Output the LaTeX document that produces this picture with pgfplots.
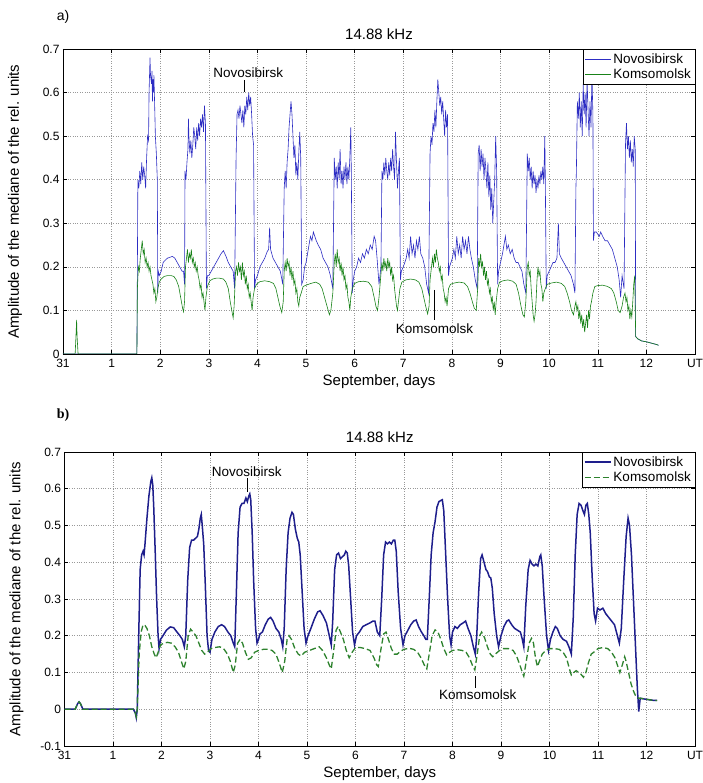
\documentclass[border=0pt]{standalone}
\usepackage{fontspec}
\setmainfont{Liberation Sans}
\newfontfamily\serifbold{Liberation Serif}
\usepackage{pgfplots}
\pgfplotsset{compat=1.18}
\definecolor{novA}{RGB}{45,45,195}
\definecolor{komA}{RGB}{25,130,25}
\definecolor{novB}{RGB}{30,30,140}
\definecolor{komB}{RGB}{45,130,45}
\pgfplotsset{
  matlab/.style={
    scale only axis, xmin=0, xmax=13,
    xtick={0,1,2,3,4,5,6,7,8,9,10,11,12,13},
    xticklabels={31,1,2,3,4,5,6,7,8,9,10,11,12,UT},
    grid=major, grid style={dotted, gray!80, line width=0.5pt},
    axis line style={black, line width=0.6pt},
    major tick length=4pt, tick style={black, line width=0.5pt},
    tick label style={font=\fontsize{12}{14}\selectfont},
    xticklabel style={yshift=-2pt},
    /pgf/number format/assume math mode=true,
    title style={font=\fontsize{15}{17}\selectfont},
    label style={font=\fontsize{15}{17}\selectfont},
    xlabel={September, days},
    ylabel={Amplitude of the mediane of the rel. units},
    ylabel style={at={(axis description cs:-0.076,0.5)}, anchor=center},
    legend cell align=left,
    legend style={at={(1,1)}, anchor=north east, draw=black, line width=0.5pt,
      font=\fontsize{13.5}{15}\selectfont, inner sep=2pt, row sep=0pt},
    legend image code/.code={\draw[#1] (0pt,0pt) -- (26pt,0pt);},
    title={14.88 kHz},
  },
}
\begin{document}
\begin{tikzpicture}
\path[use as bounding box] (0,0) rectangle (702pt,783pt);
\node[font=\fontsize{14}{16}\selectfont] at (63pt,766pt) {a)};
\node[font=\fontsize{14}{16}\selectfont\serifbold\bfseries] at (63pt,368pt) {b)};
% ---------------- panel a ----------------
\begin{axis}[matlab, at={(63pt,429pt)}, anchor=south west, width=632pt, height=305pt,
  ymin=0, ymax=0.7, ytick={0,0.1,0.2,0.3,0.4,0.5,0.6,0.7}]
\addplot[novA, line width=0.6pt] coordinates {
(0,0) (1.52,0) (1.54,0.40) (1.56,0.38) (1.58,0.42) (1.60,0.39) (1.62,0.44) (1.64,0.40) (1.66,0.43) (1.68,0.41) (1.70,0.38) (1.72,0.45) (1.74,0.50) (1.76,0.49) (1.77,0.60) (1.79,0.68) (1.80,0.64) (1.82,0.62) (1.83,0.65) (1.84,0.58) (1.85,0.63) (1.86,0.60) (1.87,0.64) (1.89,0.55) (1.90,0.50) (1.92,0.46) (1.94,0.40)
(1.95,0.14) (1.96,0.19) (1.98,0.18) (2.02,0.19) (2.06,0.21) (2.10,0.215) (2.15,0.22) (2.20,0.222) (2.25,0.224) (2.30,0.22) (2.35,0.21) (2.40,0.20) (2.45,0.19) (2.48,0.19) (2.50,0.16)
(2.51,0.42) (2.53,0.40) (2.55,0.44) (2.57,0.47) (2.58,0.54) (2.59,0.50) (2.61,0.46) (2.63,0.49) (2.65,0.45) (2.67,0.48) (2.69,0.52) (2.71,0.50) (2.73,0.47) (2.75,0.52) (2.77,0.49) (2.79,0.53) (2.81,0.50) (2.83,0.54) (2.85,0.52) (2.87,0.55) (2.89,0.51) (2.91,0.57) (2.93,0.53)
(2.95,0.15) (2.97,0.18) (3.00,0.18) (3.05,0.19) (3.10,0.20) (3.15,0.21) (3.20,0.22) (3.25,0.23) (3.30,0.237) (3.35,0.225) (3.40,0.21) (3.45,0.20) (3.50,0.19) (3.53,0.15)
(3.56,0.45) (3.58,0.55) (3.60,0.56) (3.62,0.54) (3.64,0.57) (3.66,0.55) (3.68,0.53) (3.70,0.56) (3.72,0.52) (3.74,0.57) (3.76,0.55) (3.78,0.59) (3.80,0.56) (3.82,0.60) (3.84,0.57) (3.86,0.59) (3.88,0.55) (3.90,0.50) (3.92,0.48)
(3.94,0.15) (3.96,0.17) (4.00,0.18) (4.05,0.20) (4.10,0.21) (4.15,0.22) (4.20,0.235) (4.23,0.24) (4.25,0.29) (4.27,0.24) (4.32,0.22) (4.37,0.21) (4.42,0.20) (4.47,0.19) (4.52,0.16)
(4.55,0.38) (4.57,0.42) (4.59,0.38) (4.61,0.44) (4.63,0.47) (4.65,0.52) (4.67,0.55) (4.69,0.58) (4.71,0.55) (4.73,0.50) (4.75,0.45) (4.77,0.48) (4.79,0.41) (4.81,0.44) (4.83,0.40) (4.85,0.46) (4.87,0.51) (4.89,0.45)
(4.91,0.16) (4.94,0.17) (4.97,0.20) (5.00,0.21) (5.03,0.23) (5.06,0.25) (5.09,0.27) (5.12,0.26) (5.15,0.28) (5.18,0.27) (5.21,0.26) (5.25,0.25) (5.30,0.24) (5.35,0.22) (5.40,0.21) (5.45,0.20) (5.50,0.18) (5.55,0.15)
(5.58,0.45) (5.60,0.40) (5.62,0.43) (5.64,0.38) (5.66,0.44) (5.68,0.40) (5.70,0.47) (5.72,0.39) (5.74,0.42) (5.76,0.38) (5.78,0.43) (5.80,0.40) (5.82,0.44) (5.84,0.39) (5.86,0.43) (5.88,0.40) (5.90,0.45) (5.92,0.52) (5.93,0.42)
(5.95,0.14) (5.97,0.17) (6.00,0.19) (6.04,0.20) (6.08,0.22) (6.12,0.21) (6.16,0.23) (6.20,0.22) (6.24,0.24) (6.28,0.23) (6.32,0.25) (6.36,0.24) (6.40,0.27) (6.43,0.26) (6.46,0.22) (6.50,0.16) (6.54,0.20)
(6.56,0.42) (6.58,0.40) (6.60,0.44) (6.62,0.41) (6.64,0.45) (6.66,0.42) (6.68,0.40) (6.70,0.44) (6.72,0.41) (6.74,0.45) (6.76,0.42) (6.78,0.47) (6.80,0.43) (6.82,0.40) (6.84,0.51) (6.86,0.44) (6.88,0.38) (6.90,0.42) (6.92,0.45)
(6.94,0.17) (6.96,0.19) (7.00,0.20) (7.03,0.21) (7.06,0.22) (7.09,0.24) (7.12,0.22) (7.15,0.27) (7.18,0.23) (7.21,0.25) (7.24,0.22) (7.27,0.26) (7.30,0.24) (7.33,0.27) (7.36,0.23) (7.40,0.22) (7.44,0.20) (7.48,0.16) (7.52,0.14)
(7.55,0.46) (7.57,0.50) (7.59,0.48) (7.61,0.53) (7.63,0.51) (7.65,0.56) (7.67,0.52) (7.69,0.58) (7.71,0.63) (7.73,0.60) (7.75,0.57) (7.77,0.59) (7.79,0.55) (7.81,0.58) (7.83,0.54) (7.85,0.50) (7.87,0.56) (7.89,0.52) (7.91,0.55)
(7.93,0.18) (7.95,0.20) (7.98,0.21) (8.01,0.22) (8.04,0.24) (8.07,0.22) (8.10,0.27) (8.13,0.23) (8.16,0.25) (8.19,0.22) (8.22,0.27) (8.25,0.24) (8.28,0.26) (8.31,0.23) (8.34,0.27) (8.37,0.24) (8.40,0.22) (8.44,0.20) (8.48,0.17) (8.52,0.15)
(8.54,0.46) (8.56,0.48) (8.58,0.42) (8.60,0.47) (8.62,0.43) (8.64,0.46) (8.66,0.40) (8.68,0.45) (8.70,0.42) (8.72,0.38) (8.74,0.44) (8.76,0.36) (8.78,0.41) (8.80,0.33) (8.82,0.38) (8.84,0.30) (8.86,0.35) (8.88,0.40) (8.90,0.50) (8.92,0.42)
(8.94,0.16) (8.96,0.19) (9.00,0.21) (9.04,0.23) (9.07,0.25) (9.10,0.27) (9.13,0.24) (9.16,0.25) (9.20,0.23) (9.24,0.24) (9.28,0.22) (9.32,0.21) (9.36,0.21) (9.40,0.20) (9.44,0.19) (9.48,0.16) (9.52,0.14)
(9.55,0.46) (9.57,0.42) (9.59,0.45) (9.61,0.40) (9.63,0.43) (9.65,0.38) (9.67,0.42) (9.69,0.39) (9.71,0.41) (9.73,0.37) (9.75,0.40) (9.77,0.38) (9.79,0.41) (9.81,0.39) (9.83,0.42) (9.85,0.40) (9.87,0.43) (9.89,0.39) (9.91,0.50) (9.92,0.41)
(9.94,0.15) (9.96,0.18) (10.00,0.19) (10.04,0.20) (10.08,0.21) (10.12,0.21) (10.16,0.22) (10.19,0.30) (10.21,0.23) (10.25,0.22) (10.30,0.21) (10.35,0.20) (10.40,0.19) (10.45,0.18) (10.50,0.16) (10.53,0.14)
(10.55,0.38) (10.56,0.42) (10.58,0.58) (10.60,0.54) (10.62,0.60) (10.64,0.52) (10.66,0.58) (10.68,0.50) (10.70,0.62) (10.72,0.55) (10.74,0.60) (10.76,0.52) (10.78,0.63) (10.80,0.56) (10.82,0.50) (10.84,0.58) (10.86,0.52) (10.88,0.64) (10.90,0.55)
(10.91,0.26) (10.93,0.28) (10.97,0.28) (11.00,0.275) (11.03,0.27) (11.06,0.28) (11.10,0.27) (11.15,0.26) (11.20,0.26) (11.25,0.25) (11.30,0.24) (11.35,0.22) (11.40,0.20) (11.44,0.17) (11.47,0.13) (11.50,0.18) (11.54,0.15)
(11.57,0.48) (11.59,0.53) (11.61,0.47) (11.63,0.50) (11.65,0.45) (11.67,0.49) (11.69,0.44) (11.71,0.47) (11.73,0.43) (11.75,0.50) (11.77,0.47)
(11.78,0.04) (11.82,0.035) (11.90,0.03) (12.00,0.028) (12.10,0.025) (12.20,0.022) (12.25,0.02)
};
\addplot[komA, line width=0.6pt] coordinates {
(0,0) (0.25,0) (0.27,0.05) (0.28,0.078) (0.29,0.04) (0.31,0) (1.52,0)
(1.53,0.15) (1.55,0.20) (1.57,0.19) (1.59,0.22) (1.61,0.24) (1.63,0.26) (1.65,0.23) (1.67,0.24) (1.69,0.21) (1.71,0.22) (1.73,0.20) (1.75,0.21) (1.77,0.19) (1.79,0.20) (1.81,0.18) (1.83,0.17) (1.85,0.16) (1.87,0.14) (1.89,0.15) (1.91,0.12) (1.93,0.13)
(1.95,0.15) (1.98,0.165) (2.02,0.172) (2.08,0.178) (2.15,0.18) (2.22,0.18) (2.28,0.178) (2.33,0.17) (2.38,0.155) (2.42,0.13) (2.46,0.105) (2.48,0.097) (2.50,0.12)
(2.52,0.20) (2.54,0.22) (2.56,0.24) (2.58,0.21) (2.60,0.23) (2.62,0.22) (2.64,0.24) (2.66,0.21) (2.68,0.22) (2.70,0.20) (2.72,0.21) (2.74,0.19) (2.76,0.20) (2.78,0.18) (2.80,0.17) (2.82,0.15) (2.84,0.16) (2.86,0.13) (2.88,0.14) (2.90,0.12) (2.92,0.10) (2.94,0.13)
(2.97,0.155) (3.02,0.168) (3.08,0.172) (3.15,0.174) (3.22,0.174) (3.30,0.172) (3.35,0.165) (3.40,0.15) (3.44,0.12) (3.48,0.095) (3.50,0.083) (3.52,0.11)
(3.55,0.19) (3.57,0.20) (3.59,0.18) (3.61,0.21) (3.63,0.19) (3.65,0.20) (3.67,0.17) (3.69,0.21) (3.71,0.18) (3.73,0.19) (3.75,0.16) (3.77,0.18) (3.79,0.15) (3.81,0.16) (3.83,0.13) (3.85,0.14) (3.87,0.12) (3.89,0.10) (3.91,0.13)
(3.94,0.15) (3.98,0.16) (4.05,0.166) (4.15,0.168) (4.25,0.166) (4.33,0.162) (4.38,0.15) (4.42,0.13) (4.46,0.11) (4.50,0.095) (4.53,0.12)
(4.55,0.19) (4.57,0.21) (4.59,0.19) (4.61,0.22) (4.63,0.20) (4.65,0.21) (4.67,0.18) (4.69,0.20) (4.71,0.17) (4.73,0.19) (4.75,0.16) (4.77,0.17) (4.79,0.14) (4.81,0.15) (4.83,0.12) (4.85,0.11) (4.87,0.13)
(4.90,0.14) (4.94,0.155) (5.00,0.158) (5.10,0.162) (5.20,0.165) (5.28,0.16) (5.33,0.15) (5.38,0.13) (5.43,0.11) (5.48,0.09) (5.51,0.10) (5.55,0.14)
(5.58,0.21) (5.60,0.23) (5.62,0.20) (5.64,0.24) (5.66,0.21) (5.68,0.22) (5.70,0.19) (5.72,0.21) (5.74,0.18) (5.76,0.20) (5.78,0.17) (5.80,0.18) (5.82,0.15) (5.84,0.16) (5.86,0.13) (5.88,0.12) (5.90,0.10) (5.92,0.13)
(5.95,0.15) (6.00,0.162) (6.08,0.166) (6.18,0.167) (6.28,0.165) (6.35,0.155) (6.40,0.13) (6.44,0.108) (6.47,0.10) (6.50,0.13) (6.53,0.17)
(6.56,0.21) (6.58,0.19) (6.60,0.22) (6.62,0.20) (6.64,0.21) (6.66,0.19) (6.68,0.22) (6.70,0.20) (6.72,0.21) (6.74,0.18) (6.76,0.20) (6.78,0.17) (6.80,0.18) (6.82,0.15) (6.84,0.13) (6.86,0.11) (6.88,0.10) (6.90,0.12)
(6.93,0.15) (6.97,0.165) (7.05,0.17) (7.15,0.172) (7.25,0.17) (7.32,0.165) (7.38,0.15) (7.42,0.13) (7.46,0.11) (7.50,0.092) (7.53,0.11)
(7.55,0.17) (7.58,0.20) (7.60,0.22) (7.62,0.20) (7.64,0.23) (7.66,0.21) (7.68,0.24) (7.70,0.22) (7.72,0.21) (7.74,0.19) (7.76,0.20) (7.78,0.17) (7.80,0.18) (7.82,0.15) (7.84,0.14) (7.86,0.12) (7.88,0.13) (7.90,0.11)
(7.93,0.15) (7.97,0.16) (8.05,0.163) (8.15,0.165) (8.25,0.163) (8.32,0.155) (8.37,0.14) (8.42,0.12) (8.46,0.105) (8.50,0.10) (8.53,0.15)
(8.55,0.22) (8.57,0.20) (8.59,0.23) (8.61,0.20) (8.63,0.21) (8.65,0.18) (8.67,0.20) (8.69,0.17) (8.71,0.19) (8.73,0.16) (8.75,0.17) (8.77,0.14) (8.79,0.15) (8.81,0.12) (8.83,0.13) (8.85,0.10) (8.87,0.12) (8.89,0.09) (8.91,0.12)
(8.94,0.15) (8.98,0.165) (9.05,0.168) (9.15,0.17) (9.25,0.167) (9.32,0.16) (9.37,0.14) (9.42,0.11) (9.46,0.09) (9.49,0.085) (9.52,0.12)
(9.55,0.20) (9.57,0.21) (9.59,0.18) (9.61,0.19) (9.63,0.15) (9.65,0.12) (9.67,0.09) (9.69,0.075) (9.71,0.09) (9.73,0.12) (9.75,0.17) (9.77,0.20) (9.79,0.18) (9.81,0.19) (9.83,0.16) (9.85,0.15) (9.87,0.12) (9.89,0.14)
(9.92,0.15) (9.96,0.16) (10.05,0.163) (10.15,0.165) (10.25,0.162) (10.32,0.155) (10.37,0.14) (10.42,0.12) (10.46,0.10) (10.50,0.09) (10.53,0.11)
(10.55,0.12) (10.57,0.10) (10.59,0.11) (10.61,0.08) (10.63,0.10) (10.65,0.07) (10.67,0.09) (10.69,0.06) (10.71,0.08) (10.73,0.05) (10.75,0.07) (10.77,0.09) (10.79,0.06) (10.81,0.10) (10.83,0.08) (10.85,0.11) (10.87,0.12)
(10.90,0.14) (10.94,0.155) (11.00,0.157) (11.10,0.158) (11.20,0.155) (11.28,0.15) (11.33,0.14) (11.38,0.12) (11.42,0.10) (11.46,0.095) (11.50,0.11) (11.53,0.13)
(11.56,0.14) (11.58,0.12) (11.60,0.13) (11.62,0.10) (11.64,0.11) (11.66,0.08) (11.68,0.10) (11.70,0.085) (11.72,0.12) (11.74,0.16) (11.76,0.18)
(11.78,0.04) (11.82,0.035) (11.90,0.03) (12.00,0.028) (12.10,0.025) (12.20,0.022) (12.25,0.02)
};
\legend{Novosibirsk, Komsomolsk}
\node[font=\fontsize{13.5}{15}\selectfont] at (axis cs:3.81,0.646) {Novosibirsk};
\draw[black, line width=0.6pt] (axis cs:3.72,0.628) -- (axis cs:3.72,0.601);
\node[font=\fontsize{13.5}{15}\selectfont] at (axis cs:7.64,0.058) {Komsomolsk};
\draw[black, line width=0.6pt] (axis cs:7.63,0.147) -- (axis cs:7.63,0.078);
\end{axis}
% ---------------- panel b ----------------
\begin{axis}[matlab, at={(64.5pt,37pt)}, anchor=south west, width=630.5pt, height=294pt,
  ymin=-0.1, ymax=0.7, ytick={-0.1,0,0.1,0.2,0.3,0.4,0.5,0.6,0.7}]
\addplot[novB, line width=1.5pt] coordinates {
(0,0) (0.22,0) (0.27,0.015) (0.30,0.02) (0.33,0.015) (0.38,0) (1.42,0) (1.46,-0.01) (1.48,-0.023) (1.50,0.0)
(1.53,0.2) (1.56,0.38) (1.59,0.42) (1.62,0.43) (1.64,0.42) (1.66,0.45) (1.70,0.52) (1.74,0.58) (1.78,0.62) (1.80,0.63) (1.82,0.61) (1.84,0.55) (1.87,0.43) (1.90,0.3) (1.93,0.2) (1.95,0.165)
(1.98,0.19) (2.03,0.20) (2.10,0.215) (2.18,0.224) (2.25,0.222) (2.32,0.21) (2.38,0.20) (2.43,0.19) (2.47,0.17)
(2.50,0.2) (2.54,0.35) (2.58,0.44) (2.62,0.46) (2.66,0.46) (2.70,0.465) (2.74,0.47) (2.77,0.49) (2.80,0.52) (2.82,0.53) (2.84,0.50) (2.87,0.45) (2.90,0.35) (2.94,0.2) (2.97,0.16) (3.00,0.155)
(3.04,0.19) (3.10,0.21) (3.17,0.225) (3.24,0.23) (3.30,0.225) (3.37,0.21) (3.43,0.20) (3.48,0.18) (3.51,0.17)
(3.54,0.3) (3.58,0.48) (3.62,0.55) (3.66,0.56) (3.70,0.56) (3.74,0.575) (3.77,0.565) (3.80,0.58) (3.82,0.586) (3.84,0.57) (3.87,0.48) (3.90,0.35) (3.94,0.22) (3.97,0.18)
(4.00,0.19) (4.03,0.205) (4.08,0.21) (4.14,0.23) (4.20,0.245) (4.25,0.25) (4.30,0.24) (4.36,0.22) (4.42,0.21) (4.47,0.19) (4.50,0.17)
(4.53,0.22) (4.57,0.38) (4.61,0.48) (4.65,0.52) (4.69,0.536) (4.72,0.53) (4.76,0.49) (4.80,0.465) (4.83,0.455) (4.86,0.42) (4.90,0.32) (4.94,0.22) (4.98,0.18)
(5.02,0.2) (5.08,0.22) (5.15,0.245) (5.22,0.265) (5.27,0.268) (5.33,0.255) (5.40,0.235) (5.46,0.2) (5.50,0.175)
(5.53,0.24) (5.57,0.38) (5.61,0.42) (5.65,0.425) (5.69,0.41) (5.73,0.415) (5.77,0.42) (5.80,0.43) (5.83,0.425) (5.86,0.39) (5.90,0.3) (5.94,0.21) (5.98,0.175)
(6.02,0.2) (6.08,0.21) (6.15,0.225) (6.22,0.23) (6.30,0.235) (6.36,0.24) (6.40,0.24) (6.45,0.21) (6.50,0.2)
(6.54,0.3) (6.58,0.42) (6.62,0.455) (6.66,0.45) (6.70,0.455) (6.74,0.45) (6.78,0.46) (6.81,0.46) (6.84,0.43) (6.88,0.32) (6.93,0.22) (6.98,0.175)
(7.02,0.2) (7.08,0.215) (7.14,0.23) (7.20,0.24) (7.25,0.243) (7.30,0.225) (7.36,0.21) (7.41,0.20) (7.45,0.19) (7.48,0.19)
(7.52,0.3) (7.56,0.42) (7.60,0.48) (7.64,0.51) (7.68,0.55) (7.72,0.565) (7.76,0.568) (7.79,0.57) (7.82,0.54) (7.86,0.42) (7.90,0.3) (7.94,0.2) (7.97,0.175)
(8.00,0.21) (8.05,0.225) (8.10,0.22) (8.16,0.23) (8.22,0.235) (8.27,0.24) (8.32,0.22) (8.38,0.2) (8.43,0.17) (8.47,0.15)
(8.50,0.2) (8.54,0.32) (8.58,0.41) (8.61,0.42) (8.65,0.40) (8.69,0.38) (8.72,0.375) (8.76,0.36) (8.79,0.357) (8.82,0.33) (8.86,0.26) (8.91,0.2) (8.95,0.17)
(9.00,0.2) (9.06,0.225) (9.12,0.24) (9.16,0.243) (9.22,0.23) (9.28,0.22) (9.34,0.215) (9.40,0.21) (9.44,0.19) (9.47,0.17)
(9.51,0.28) (9.56,0.38) (9.60,0.405) (9.64,0.395) (9.68,0.39) (9.72,0.395) (9.76,0.39) (9.80,0.415) (9.82,0.42) (9.85,0.39) (9.89,0.3) (9.94,0.2) (9.98,0.16)
(10.02,0.19) (10.07,0.21) (10.12,0.225) (10.16,0.22) (10.22,0.2) (10.28,0.19) (10.35,0.185) (10.40,0.17) (10.45,0.15)
(10.49,0.25) (10.53,0.42) (10.57,0.53) (10.61,0.56) (10.65,0.555) (10.69,0.54) (10.72,0.53) (10.75,0.555) (10.78,0.56) (10.81,0.53) (10.84,0.48) (10.88,0.36) (10.92,0.26) (10.95,0.24)
(10.99,0.275) (11.04,0.27) (11.10,0.275) (11.16,0.26) (11.22,0.25) (11.28,0.24) (11.34,0.23) (11.40,0.2) (11.44,0.18)
(11.48,0.22) (11.53,0.35) (11.58,0.47) (11.62,0.52) (11.65,0.5) (11.69,0.42) (11.73,0.3) (11.77,0.18) (11.81,0.06) (11.84,-0.006)
(11.87,0.03) (11.95,0.028) (12.05,0.026) (12.15,0.024) (12.22,0.024)
};
\addplot[komB, line width=1.3pt, dash pattern=on 6pt off 3pt] coordinates {
(0,0) (0.22,0) (0.27,0.015) (0.30,0.02) (0.33,0.015) (0.38,0) (1.42,0) (1.46,-0.01) (1.48,-0.02) (1.50,0.0)
(1.54,0.15) (1.58,0.21) (1.62,0.23) (1.66,0.228) (1.70,0.22) (1.75,0.2) (1.80,0.17) (1.85,0.15) (1.89,0.14) (1.93,0.155) (1.98,0.175)
(2.05,0.18) (2.12,0.182) (2.20,0.18) (2.28,0.17) (2.35,0.155) (2.41,0.13) (2.46,0.11) (2.50,0.13) (2.55,0.2) (2.60,0.218) (2.65,0.21) (2.71,0.2) (2.77,0.18) (2.83,0.16) (2.89,0.15) (2.95,0.155)
(3.02,0.165) (3.10,0.168) (3.20,0.17) (3.28,0.165) (3.36,0.15) (3.42,0.13) (3.48,0.1) (3.52,0.12) (3.57,0.18) (3.62,0.19) (3.67,0.18) (3.73,0.155) (3.79,0.136) (3.85,0.14) (3.92,0.155)
(4.00,0.16) (4.10,0.163) (4.20,0.163) (4.28,0.16) (4.36,0.15) (4.43,0.125) (4.49,0.1) (4.54,0.13) (4.59,0.19) (4.63,0.2) (4.68,0.19) (4.75,0.165) (4.82,0.15) (4.88,0.145) (4.95,0.155)
(5.05,0.16) (5.15,0.165) (5.25,0.17) (5.32,0.16) (5.40,0.14) (5.46,0.12) (5.50,0.11) (5.55,0.16) (5.60,0.215) (5.64,0.225) (5.69,0.21) (5.75,0.19) (5.81,0.16) (5.87,0.14) (5.93,0.155)
(6.00,0.168) (6.10,0.168) (6.20,0.165) (6.30,0.16) (6.38,0.14) (6.44,0.12) (6.47,0.116) (6.52,0.16) (6.58,0.205) (6.63,0.21) (6.68,0.19) (6.74,0.165) (6.80,0.15) (6.86,0.15) (6.93,0.158)
(7.00,0.163) (7.10,0.166) (7.20,0.163) (7.28,0.155) (7.35,0.14) (7.42,0.12) (7.47,0.11) (7.52,0.15) (7.58,0.2) (7.64,0.216) (7.70,0.21) (7.76,0.19) (7.82,0.165) (7.88,0.148) (7.94,0.155)
(8.00,0.16) (8.10,0.162) (8.20,0.16) (8.28,0.155) (8.35,0.14) (8.41,0.12) (8.46,0.107) (8.51,0.15) (8.56,0.2) (8.60,0.21) (8.66,0.195) (8.72,0.17) (8.78,0.15) (8.83,0.143) (8.90,0.152) (8.97,0.16)
(9.05,0.165) (9.15,0.165) (9.25,0.16) (9.32,0.145) (9.39,0.12) (9.44,0.1) (9.47,0.09) (9.52,0.13) (9.58,0.18) (9.63,0.193) (9.67,0.18) (9.71,0.14) (9.75,0.116) (9.79,0.13) (9.85,0.15) (9.92,0.16)
(10.00,0.165) (10.10,0.165) (10.20,0.163) (10.28,0.155) (10.35,0.14) (10.41,0.11) (10.45,0.093) (10.50,0.1) (10.55,0.105) (10.60,0.1) (10.65,0.095) (10.70,0.087) (10.75,0.1) (10.80,0.125) (10.86,0.15) (10.93,0.157)
(11.00,0.165) (11.10,0.168) (11.20,0.165) (11.28,0.155) (11.35,0.14) (11.40,0.12) (11.45,0.1) (11.50,0.12) (11.55,0.143) (11.58,0.13) (11.63,0.1) (11.68,0.07) (11.73,0.05) (11.78,0.035) (11.84,0.03)
(11.87,0.03) (11.95,0.028) (12.05,0.026) (12.15,0.024) (12.22,0.024)
};
\legend{Novosibirsk, Komsomolsk}
\node[font=\fontsize{13.5}{15}\selectfont] at (axis cs:3.76,0.647) {Novosibirsk};
\draw[black, line width=0.6pt] (axis cs:3.76,0.628) -- (axis cs:3.76,0.59);
\node[font=\fontsize{13.5}{15}\selectfont] at (axis cs:8.52,0.039) {Komsomolsk};
\draw[black, line width=0.6pt] (axis cs:8.48,0.09) -- (axis cs:8.48,0.058);
\end{axis}
\end{tikzpicture}
\end{document}
